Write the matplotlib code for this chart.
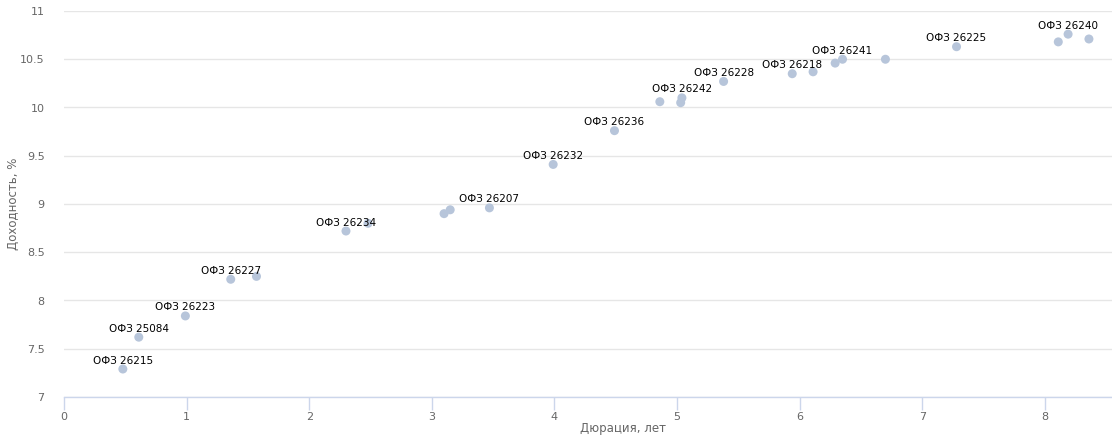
import matplotlib
matplotlib.use("Agg")
import matplotlib.pyplot as plt
from matplotlib.ticker import FuncFormatter, MultipleLocator

duration = [0.48, 0.61, 0.99, 1.36, 1.57, 2.30, 2.48, 3.10, 3.15, 3.47,
            3.99, 4.49, 4.86, 5.03, 5.04, 5.38, 5.94, 6.11, 6.29, 6.35,
            6.70, 7.28, 8.11, 8.19, 8.36]
yield_pct = [7.29, 7.62, 7.84, 8.22, 8.25, 8.72, 8.80, 8.90, 8.94, 8.96,
             9.41, 9.76, 10.06, 10.05, 10.10, 10.27, 10.35, 10.37, 10.46, 10.50,
             10.50, 10.63, 10.68, 10.76, 10.71]
labels = ["ОФЗ 26215", "ОФЗ 25084", "ОФЗ 26223", "ОФЗ 26227", "", "ОФЗ 26234", "", "", "", "ОФЗ 26207",
          "ОФЗ 26232", "ОФЗ 26236", "", "", "ОФЗ 26242", "ОФЗ 26228", "ОФЗ 26218", "", "", "ОФЗ 26241",
          "", "ОФЗ 26225", "", "ОФЗ 26240", ""]

x_title = "Дюрация, лет"
y_title = "Доходность, %"

fig = plt.figure(figsize=(11.12, 4.36), dpi=100)
ax = fig.add_axes([64/1112, 1-397/436, 1-64/1112, (397-11)/436])

ax.scatter(duration, yield_pct, s=42, color="#b7c5da", edgecolors="none", zorder=3)
for x, y, t in zip(duration, yield_pct, labels):
    if t:
        ax.annotate(t, (x, y), xytext=(0, 2.5), textcoords="offset points",
                    ha="center", va="bottom", fontsize=7.5, color="#000000",
                    family="DejaVu Sans", zorder=4)

ax.set_xlim(0, (1112-64)/122.6)
ax.set_ylim(7, 11)
ax.xaxis.set_major_locator(MultipleLocator(1))
ax.yaxis.set_major_locator(MultipleLocator(0.5))
ax.yaxis.set_major_formatter(FuncFormatter(lambda v, p: f"{v:g}"))

ax.grid(axis="y", color="#e6e6e6", linewidth=1)
ax.set_axisbelow(True)
for s in ["top", "right", "left"]:
    ax.spines[s].set_visible(False)
ax.spines["bottom"].set_color("#ccd6eb")
ax.spines["bottom"].set_linewidth(1)

ax.tick_params(axis="x", colors="#ccd6eb", length=9, width=1, labelcolor="#666666", labelsize=8, pad=2)
ax.tick_params(axis="y", length=0, labelcolor="#666666", labelsize=8, pad=14)

fig.text(623/1112, 1-428/436, x_title, color="#666666", fontsize=8.5, ha="center", va="center")
fig.text(13/1112, 1-204/436, y_title, color="#666666", fontsize=8.5, ha="center", va="center", rotation=90)

fig.savefig("out.png", dpi=100)
